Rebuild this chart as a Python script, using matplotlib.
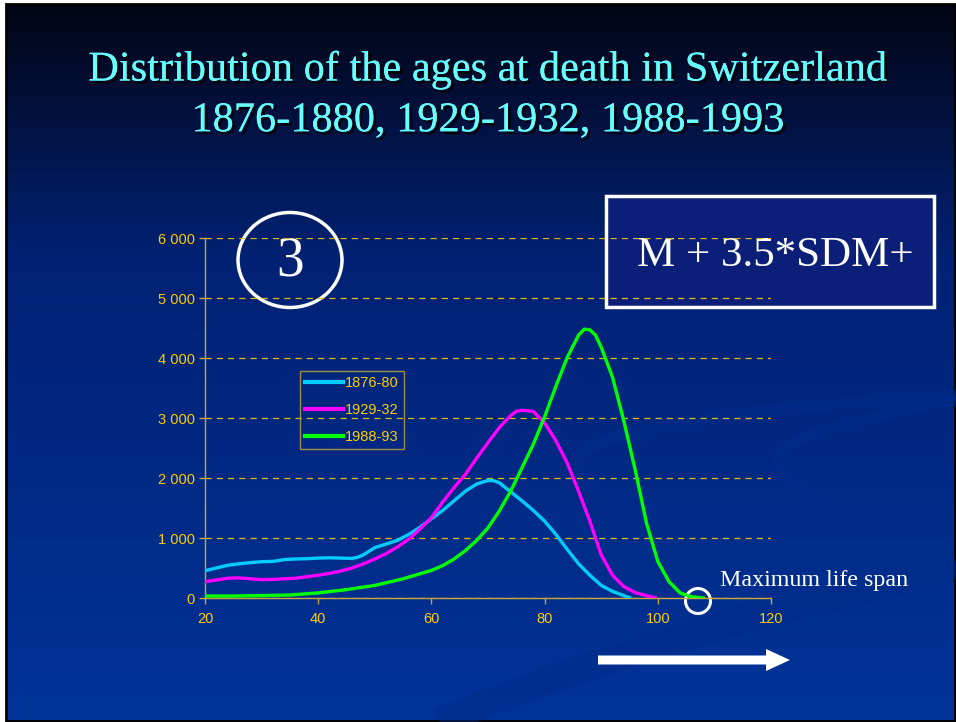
import numpy as np
import matplotlib
matplotlib.use('Agg')
import matplotlib.pyplot as plt
from matplotlib.patches import Ellipse, Rectangle, FancyArrow, PathPatch
from matplotlib.path import Path
import matplotlib.patheffects as pe
from matplotlib.ticker import FuncFormatter

# ages at death and number of deaths
ages_1876 = [20, 22, 24, 26, 28, 30, 32, 34, 36, 38, 40, 42, 44, 46, 47, 48, 50, 52, 54, 56, 58,
             60, 62, 64, 66, 68, 70, 71, 72, 74, 76, 78, 80, 82, 84, 86, 88, 90, 92, 94, 95]
deaths_1876 = [455, 500, 545, 570, 590, 605, 610, 640, 650, 655, 665, 670, 665, 660, 680, 720, 840,
               900, 960, 1060, 1180, 1320, 1460, 1620, 1780, 1900, 1960, 1955, 1920, 1770, 1620,
               1460, 1280, 1060, 810, 570, 380, 210, 110, 40, 5]

ages_1929 = [20, 22, 24, 26, 28, 30, 32, 34, 36, 38, 40, 42, 44, 46, 48, 50, 52, 54, 56, 58, 60,
             62, 64, 66, 68, 70, 72, 74, 75, 76, 78, 80, 82, 84, 86, 88, 90, 92, 94, 96, 98, 99.5]
deaths_1929 = [272, 300, 330, 335, 320, 305, 310, 320, 330, 355, 380, 410, 450, 500, 570, 650,
               740, 850, 980, 1150, 1340, 1600, 1840, 2060, 2330, 2590, 2840, 3040, 3110, 3130,
               3110, 2920, 2620, 2250, 1780, 1280, 720, 380, 190, 90, 40, 5]

ages_1988 = [20, 25, 30, 35, 40, 45, 50, 55, 60, 62, 64, 66, 68, 70, 72, 74, 76, 78, 80, 82, 84,
             86, 87, 88, 89, 90, 92, 94, 96, 98, 100, 102, 104, 106, 108]
deaths_1988 = [33, 33, 40, 50, 85, 140, 210, 320, 460, 540, 650, 790, 960, 1170, 1450, 1780, 2170,
               2560, 3020, 3530, 4010, 4380, 4480, 4470, 4380, 4180, 3680, 2950, 2140, 1250, 610,
               270, 80, 20, 0]

series_labels = ['1876-80', '1929-32', '1988-93']
series_colors = ['#00ccff', '#ff00ff', '#00ff00']

W, H = 956, 722
fig = plt.figure(figsize=(W / 100, H / 100), dpi=100, facecolor='white')

# slide background in pixel coordinates
bg = fig.add_axes([0, 0, 1, 1])
bg.set_xlim(0, W)
bg.set_ylim(H, 0)
bg.axis('off')

x0, y0 = 6, 4
t = np.linspace(0, 1, 300)[:, None]
top = np.array([0.01, 0.02, 0.08])
mid = np.array([0.0, 0.13, 0.45])
bot = np.array([0.0, 0.2, 0.6])
k = np.clip(t / 0.35, 0, 1)
k2 = np.clip((t - 0.35) / 0.65, 0, 1)
cols = np.where(t < 0.35, top + (mid - top) * k, mid + (bot - mid) * k2)
grad = np.repeat(cols[:, None, :], 2, axis=1)
bg.imshow(grad, extent=[x0, W, H, y0], aspect='auto', zorder=0)
bg.add_patch(Rectangle((x0, y0), W - x0 - 1, H - y0 - 1, fill=False, ec='black', lw=2, zorder=1))

# faint swooshes in the background
sw_col = '#002c8a'
sw1 = Path([(956, 395), (700, 410), (540, 440), (580, 475), (640, 520), (780, 540), (770, 600)],
           [Path.MOVETO, Path.CURVE4, Path.CURVE4, Path.CURVE4, Path.CURVE4, Path.CURVE4, Path.CURVE4])
bg.add_patch(PathPatch(sw1, fc='none', ec=sw_col, lw=9, alpha=0.55, zorder=1))
sw2 = Path([(956, 400), (850, 420), (760, 440), (780, 470), (820, 510), (900, 540), (900, 570)],
           [Path.MOVETO, Path.CURVE4, Path.CURVE4, Path.CURVE4, Path.CURVE4, Path.CURVE4, Path.CURVE4])
bg.add_patch(PathPatch(sw2, fc='none', ec=sw_col, lw=8, alpha=0.5, zorder=1))
sw3 = Path([(440, 722), (640, 640), (820, 600), (956, 565)],
           [Path.MOVETO, Path.CURVE4, Path.CURVE4, Path.CURVE4])
bg.add_patch(PathPatch(sw3, fc='none', ec=sw_col, lw=20, alpha=0.45, zorder=1))

shadow = [pe.withSimplePatchShadow(offset=(2, -2), shadow_rgbFace='black', alpha=0.8), pe.Normal()]
bg.text(488, 70, 'Distribution of the ages at death in Switzerland', color='#66ffff',
        fontsize=30.5, family='Liberation Serif', ha='center', va='center', path_effects=shadow)
bg.text(488, 121, '1876-1880, 1929-1932, 1988-1993', color='#66ffff',
        fontsize=30.5, family='Liberation Serif', ha='center', va='center', path_effects=shadow)

# chart
ax = fig.add_axes([205 / W, 1 - 598 / H, 566 / W, 360 / H])
ax.set_facecolor('none')
for a, d, c, lab in zip([ages_1876, ages_1929, ages_1988],
                        [deaths_1876, deaths_1929, deaths_1988], series_colors, series_labels):
    ax.plot(a, d, color=c, lw=2.4, label=lab, solid_joinstyle='round', zorder=3)

ax.set_xlim(20, 120)
ax.set_ylim(0, 6000)
ax.set_xticks(range(20, 121, 20))
ax.set_yticks(range(0, 6001, 1000))
ax.yaxis.set_major_formatter(FuncFormatter(lambda v, p: f'{int(v):,}'.replace(',', ' ')))
ax.grid(axis='y', color='#e6b800', ls=(0, (5, 4)), lw=0.9)
ax.grid(axis='x', visible=False)
for s in ['top', 'right']:
    ax.spines[s].set_visible(False)
for s in ['left', 'bottom']:
    ax.spines[s].set_color('#c9a53a')
    ax.spines[s].set_linewidth(1)
ax.tick_params(colors='#c9a53a', length=4, width=1, labelsize=10.5, labelcolor='#ffcc00')
ax.tick_params(axis='x', pad=6)
for lbl in ax.get_xticklabels() + ax.get_yticklabels():
    lbl.set_family('Liberation Sans')

leg = ax.legend(loc='upper left', bbox_to_anchor=(300 / W, 1 - 371 / H),
                bbox_transform=fig.transFigure, frameon=True, fancybox=False,
                prop={'family': 'Liberation Sans', 'size': 10.5}, labelcolor='#ffcc00',
                handlelength=2.6, handletextpad=0.15, labelspacing=0.9, borderpad=0.35,
                borderaxespad=0)
leg.get_frame().set_facecolor('none')
leg.get_frame().set_edgecolor('#c9a53a')
leg.get_frame().set_linewidth(1)
for h in leg.get_lines():
    h.set_linewidth(3)

# annotations
bg.add_patch(Ellipse((290, 260), 104, 95, fill=False, ec='white', lw=2.5, zorder=5))
bg.text(290, 262, '3', color='white', fontsize=40, family='Liberation Serif',
        ha='center', va='center', zorder=5)

bg.add_patch(Rectangle((606, 196), 328, 111, fc='#0b1f78', ec='white', lw=2.5, zorder=5))
bg.text(775, 266, 'M + 3.5*SDM+', color='white', fontsize=31, family='Liberation Serif',
        ha='center', va='baseline', zorder=6)

bg.add_patch(Ellipse((698, 601), 25, 25, fill=False, ec='white', lw=2.2, zorder=5))
bg.text(720, 586, 'Maximum life span', color='white', fontsize=17.3, family='Liberation Serif',
        ha='left', va='baseline', zorder=5)

bg.add_patch(FancyArrow(598, 660, 168, 0, width=9, head_width=22, head_length=24,
                        length_includes_head=False, fc='white', ec='none', zorder=5))

fig.savefig('out.png', dpi=100, facecolor=fig.get_facecolor())
